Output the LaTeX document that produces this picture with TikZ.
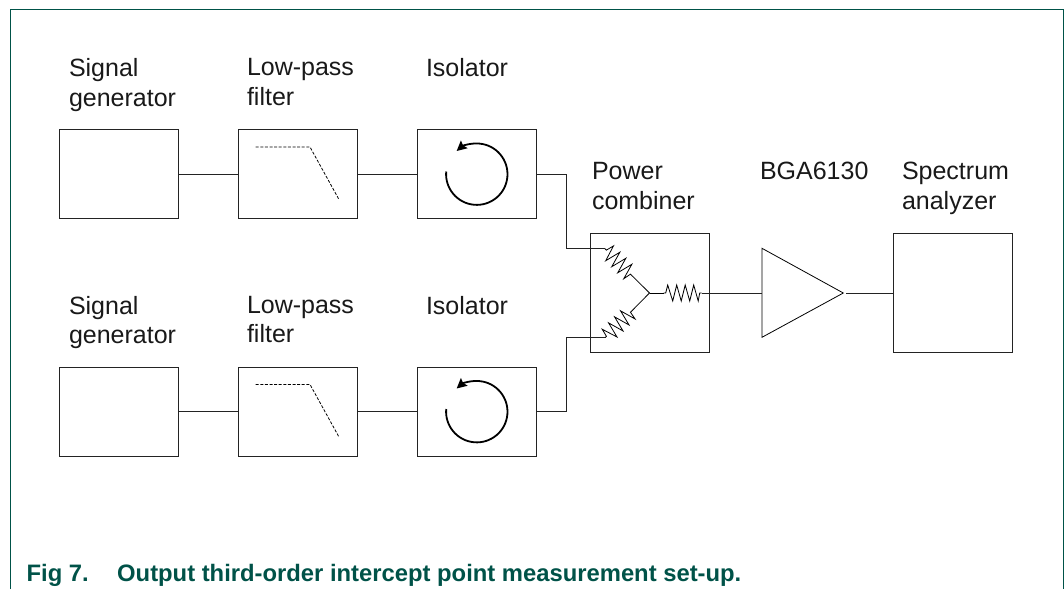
\documentclass[tikz,border=0pt]{standalone}
\usepackage{fontspec}
\setmainfont{Liberation Sans}
\usetikzlibrary{arrows.meta}
\definecolor{nxpgreen}{RGB}{0,82,72}
\definecolor{linegray}{RGB}{35,35,35}
\tikzset{
  x=1pt,y=-1pt,
  unitbox/.style={draw=linegray,line width=1pt,minimum width=119pt,minimum height=89pt,inner sep=0pt,outer sep=0pt,anchor=north west},
  tallbox/.style={unitbox,minimum height=118.6pt},
  wire/.style={draw=linegray,line width=1pt},
  fine/.style={draw=black,line width=0.8pt,line join=miter},
  dashline/.style={draw=black,line width=0.8pt,dash pattern=on 3pt off 1.6pt},
  loopline/.style={draw=black,line width=1.8pt,-{Stealth[length=10pt,width=10pt,inset=1.5pt]}},
  lbl/.style={font=\fontsize{25}{29.5}\selectfont,align=left,anchor=north west,inner sep=0pt,outer sep=0pt,text=black!90},
  framepath/.style={draw=nxpgreen,line width=1.3pt},
  captiontext/.style={font=\fontsize{23.8}{27}\selectfont\bfseries,text=nxpgreen,anchor=base west,inner sep=0pt}
}
\newcommand{\zigzag}[3]{%
  \begin{scope}[shift={(#1,#2)},rotate=#3]
    \draw[fine] (0,0) -- (2,0) -- (4,-8) -- (9,8) -- (13,-8) -- (17.5,8) -- (21.5,-8) -- (26,8) -- (30,-8) -- (34.5,8) -- (36,0) -- (38,0);
  \end{scope}}
\begin{document}
\begin{tikzpicture}
\useasboundingbox (0,0) rectangle (1064,589);
\draw[framepath] (10.5,589) -- (10.5,9.5) -- (1063.5,9.5) -- (1063.5,589);

\node[unitbox] (sg1) at (59.5,129.5) {};
\node[unitbox] (lp1) at (238.5,129.5) {};
\node[unitbox] (iso1) at (417,129.5) {};
\node[unitbox] (sg2) at (59.5,367) {};
\node[unitbox] (lp2) at (238.5,367) {};
\node[unitbox] (iso2) at (417,367) {};
\node[tallbox] (comb) at (590,233.5) {};
\node[tallbox] (spec) at (893.7,233.5) {};

\node[lbl] (t1) at (69,58.5) {Signal\\generator};
\node[lbl] (t2) at (247,58.5) {Low-pass\\filter};
\node[lbl] (t3) at (426,58.5) {Isolator};
\node[lbl] (t4) at (69,296) {Signal\\generator};
\node[lbl] (t5) at (247,296) {Low-pass\\filter};
\node[lbl] (t6) at (426,296) {Isolator};
\node[lbl] (t7) at (592,162.5) {Power\\combiner};
\node[lbl] (t8) at (760,162.5) {BGA6130};
\node[lbl] (t9) at (902,162.5) {Spectrum\\analyzer};
\node[captiontext] (caption) at (26.5,581.5) {\makebox[90.5pt][l]{Fig 7.}Output third-order intercept point measurement set-up.};

\draw[wire] (sg1.east) -- (lp1.west);
\draw[wire] (lp1.east) -- (iso1.west);
\draw[wire] (sg2.east) -- (lp2.west);
\draw[wire] (lp2.east) -- (iso2.west);

% low-pass symbols
\draw[dashline] (255.7,147) -- (310,147) -- (338.7,199);
\draw[dashline] (255.7,384.5) -- (310,384.5) -- (338.7,436.5);

% isolator loops
\draw[loopline] (446.2,171.5) arc[start angle=175,delta angle=316,radius=30.7pt];
\draw[loopline] (446.2,409) arc[start angle=175,delta angle=316,radius=30.7pt];

% amplifier
\coordinate (ampin) at (762,293);
\coordinate (ampout) at (846,293);
\draw[fine,line join=miter] (762,248.3) -- (843.3,293) -- (762,337.3) -- cycle;
\draw[wire] (ampout) -- (ampout -| spec.west);

% combiner
\coordinate (rin1) at (605,248.7);
\coordinate (rin2) at (605,337.7);
\coordinate (rout) at (701.7,293);
\coordinate (hub) at (649.5,293);
\zigzag{605}{248.7}{-45}
\zigzag{605}{337.7}{45}
\zigzag{663.7}{293}{0}
\draw[fine] (631.9,275.6) -- (hub);
\draw[fine] (631.9,310.8) -- (hub);
\draw[fine] (hub) -- (663.7,293);
\draw[wire] (rout) -- (ampin);
\draw[wire] (iso1.east) -- (566,174) -- (566,248.7) -- (rin1);
\draw[wire] (iso2.east) -- (566,411.5) -- (566,337.7) -- (rin2);
\end{tikzpicture}
\end{document}
